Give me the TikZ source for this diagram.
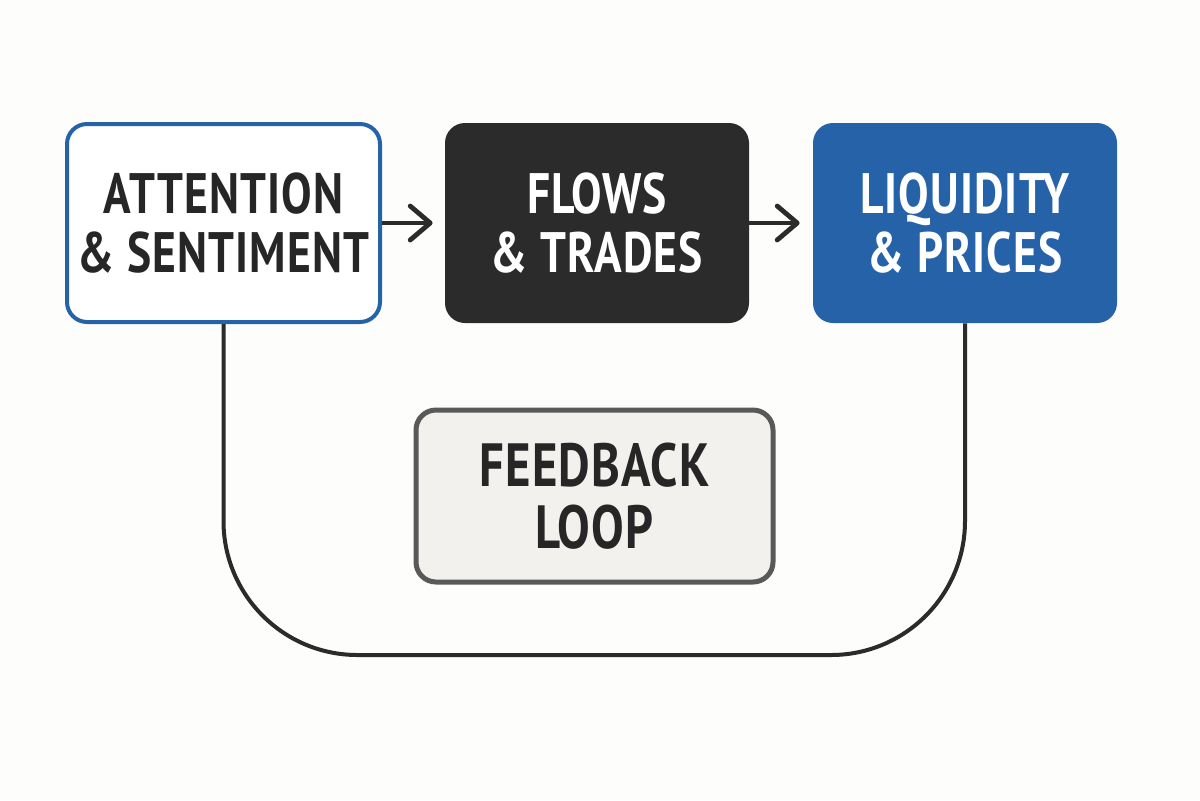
\documentclass[tikz,border=0pt]{standalone}
\usepackage{fontspec}
\setmainfont{PT Sans}[FakeStretch=0.8,LetterSpace=2]
\usetikzlibrary{arrows.meta}
\definecolor{bgc}{HTML}{FDFDFC}
\definecolor{bluec}{HTML}{2662A8}
\definecolor{darkc}{HTML}{2B2B2B}
\definecolor{textc}{HTML}{262626}
\definecolor{fbfill}{HTML}{F3F1EE}
\definecolor{fbdraw}{HTML}{595959}
\tikzset{
  box/.style={rounded corners=10pt, inner sep=0pt, align=center,
    font=\fontsize{28.5}{29.5}\selectfont\bfseries},
  flowarrow/.style={draw=darkc, line width=2.4pt,
    -{Straight Barb[length=10pt,width=17pt,line width=2.4pt,line cap=round,line join=round]}},
  loopline/.style={draw=darkc, line width=2pt, rounded corners=67pt},
}
\begin{document}
\begin{tikzpicture}[x=0.5pt,y=-0.5pt]
\useasboundingbox (0,0) rectangle (1200,800);
\fill[bgc] (0,0) rectangle (1200,800);
\node[box, draw=bluec, line width=2pt, fill=white, text=textc,
  minimum width=156.5pt, minimum height=99pt] (A) at (223.5,223) {ATTENTION\\\& SENTIMENT};
\node[box, fill=darkc, text=white,
  minimum width=152pt, minimum height=100pt] (B) at (597,223) {FLOWS\\\& TRADES};
\node[box, fill=bluec, text=white,
  minimum width=152pt, minimum height=100pt] (C) at (965,223) {LIQUIDITY\\\& PRICES};
\node[box, draw=fbdraw, line width=2.5pt, fill=fbfill, text=textc,
  font=\fontsize{30.5}{31}\selectfont\bfseries,
  minimum width=178.5pt, minimum height=86pt] (F) at (594.5,496) {FEEDBACK\\LOOP};
\draw[flowarrow, shorten >=6pt] (A.east) -- (B.west);
\draw[flowarrow, shorten >=6.5pt] (B.east) -- (C.west);
\coordinate (bot) at (600,655);
\draw[loopline] (A.south) |- (bot) -| (C.south);
\end{tikzpicture}
\end{document}
